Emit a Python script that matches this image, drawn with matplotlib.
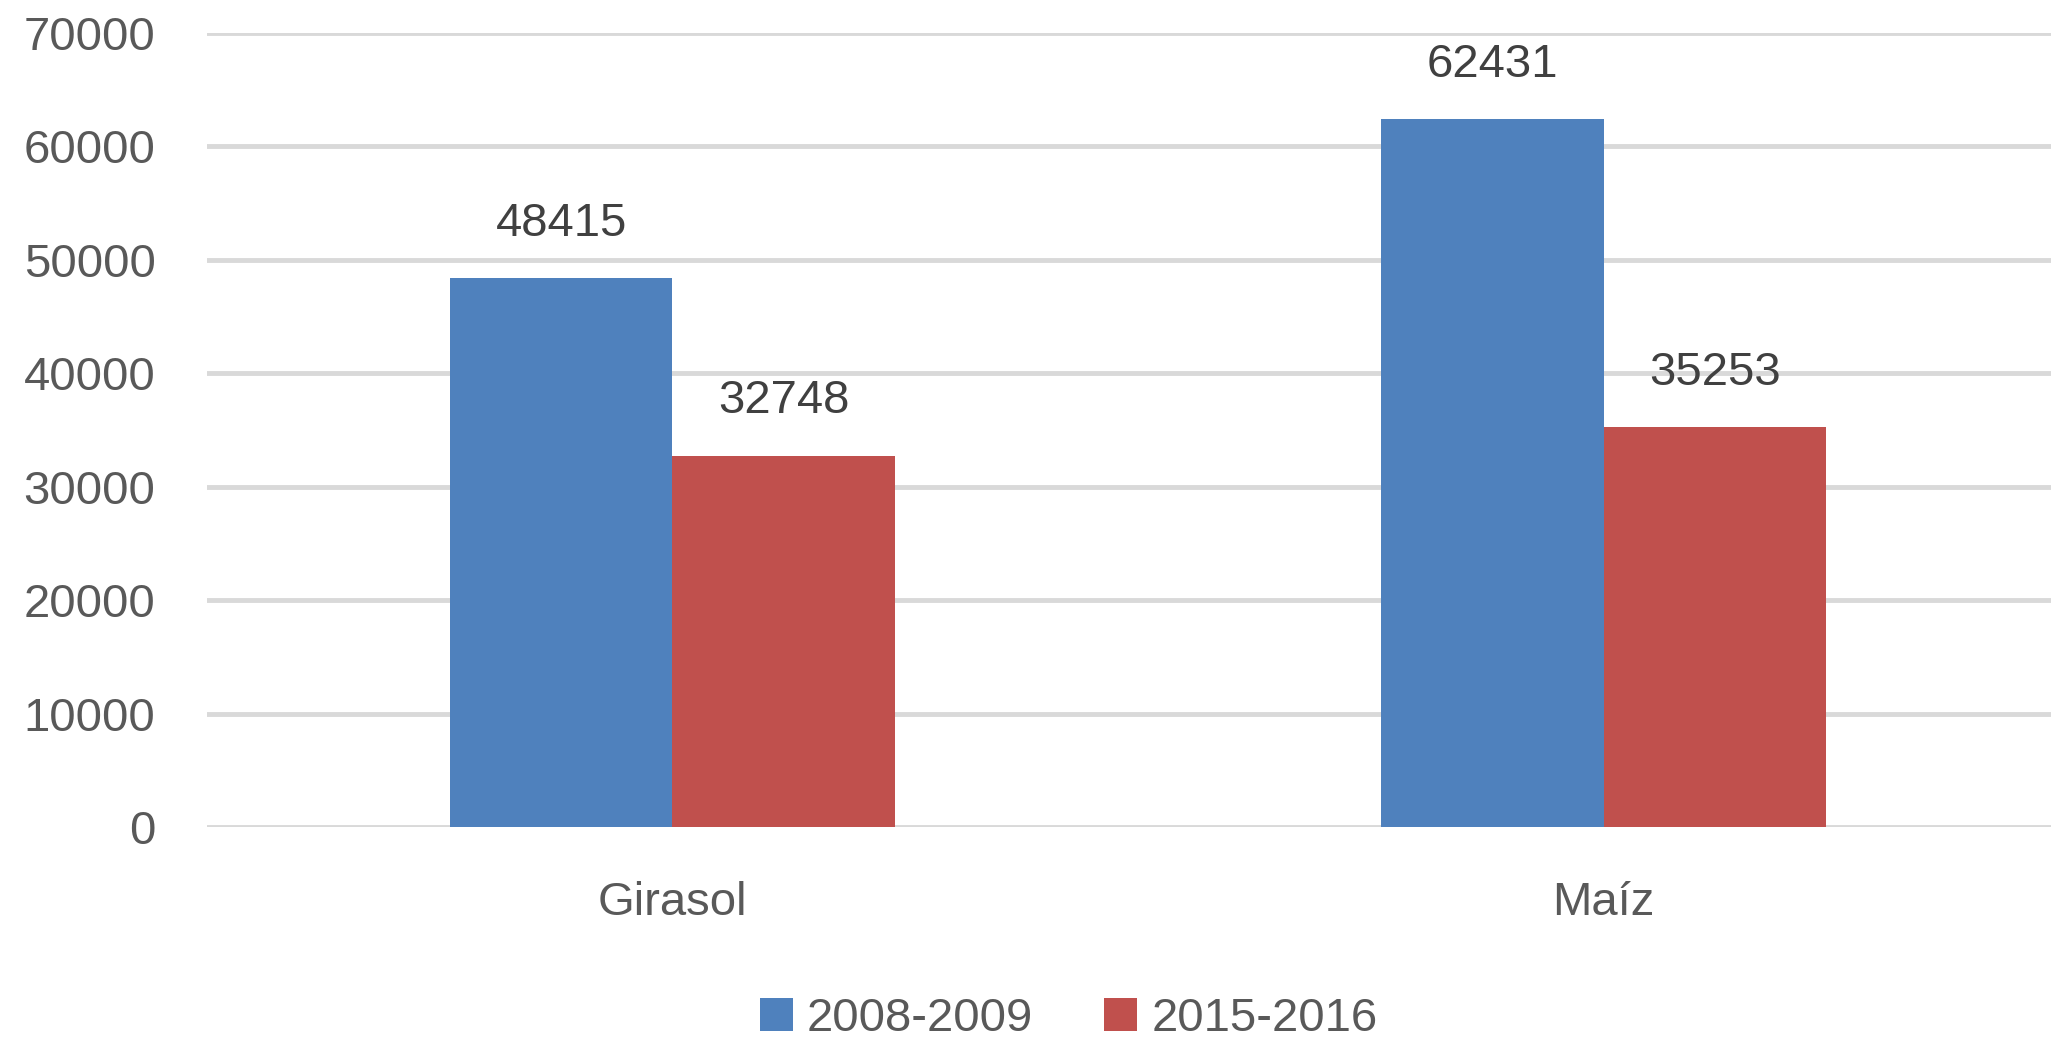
import matplotlib
matplotlib.use("Agg")
import matplotlib.pyplot as plt
import numpy as np

categories = ["Girasol", "Maíz"]
series_names = ["2008-2009", "2015-2016"]
values_2008 = [48415, 62431]
values_2015 = [32748, 35253]
yticks = [0, 10000, 20000, 30000, 40000, 50000, 60000, 70000]

colors = ["#4F81BD", "#C0504D"]
text_color = "#595959"
grid_color = "#D9D9D9"

plt.rcParams['font.family'] = ['Liberation Sans', 'DejaVu Sans']
FS = 34

fig = plt.figure(figsize=(20.51, 10.40), dpi=100)
ax = fig.add_axes([0.1009, 0.2048, 0.9079, 0.7635])

x = np.arange(len(categories))
w = 0.239
bars1 = ax.bar(x - w / 2, values_2008, w, color=colors[0], label=series_names[0], zorder=3)
bars2 = ax.bar(x + w / 2, values_2015, w, color=colors[1], label=series_names[1], zorder=3)

for bars in (bars1, bars2):
    for b in bars:
        h = b.get_height()
        ax.annotate(f"{int(h)}", (b.get_x() + b.get_width() / 2, h),
                    xytext=(0, 39), textcoords="offset points",
                    ha="center", va="center", fontsize=FS, color="#404040")

ax.set_xlim(-0.5, 1.5)
ax.set_ylim(0, 70000)
ax.set_yticks(yticks)
ax.set_yticklabels([str(t) for t in yticks])
ax.set_xticks(x)
ax.set_xticklabels(categories)
ax.tick_params(axis='y', length=0, pad=37, labelsize=FS, labelcolor=text_color)
ax.tick_params(axis='x', length=0, pad=39, labelsize=FS, labelcolor=text_color)

ax.yaxis.grid(True, color=grid_color, linewidth=3.5, zorder=0)
ax.set_axisbelow(True)
for s in ax.spines.values():
    s.set_visible(False)

leg = fig.legend(loc="center", bbox_to_anchor=(0.521, 0.02), ncol=2, frameon=False,
                 fontsize=FS, handlelength=0.7, handleheight=0.7, handletextpad=0.3,
                 columnspacing=1.5, labelcolor=text_color)

fig.savefig("out.png", dpi=100)
